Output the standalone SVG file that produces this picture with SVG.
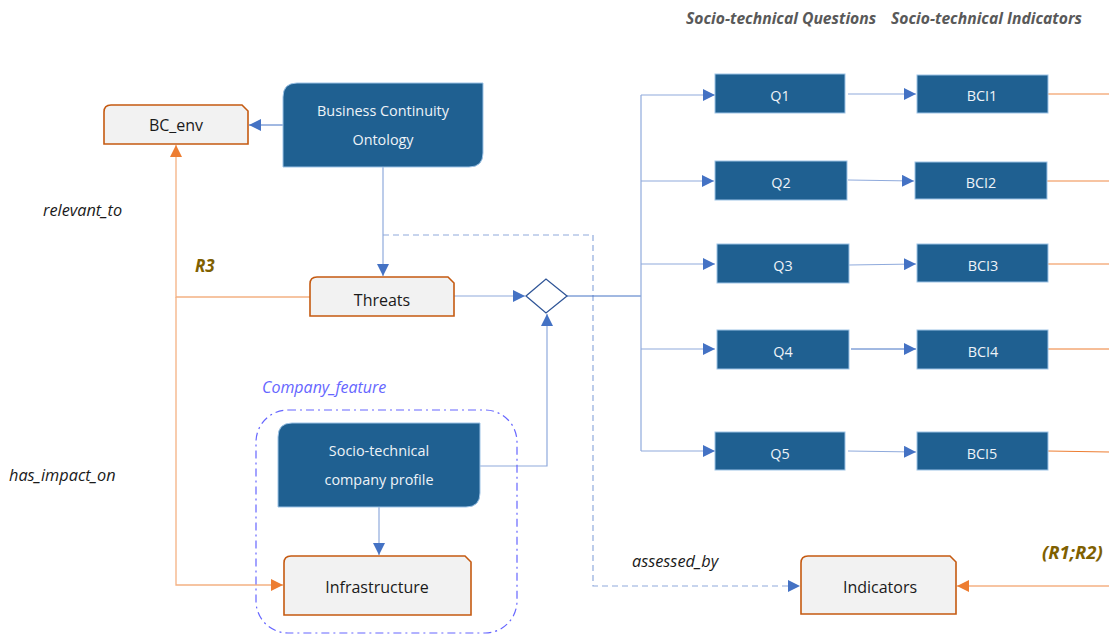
<svg xmlns="http://www.w3.org/2000/svg" width="1109" height="634" viewBox="0 0 1109 634">
<defs>
<style>
.dk{fill:#1f6091;stroke:#9dc3e6;stroke-width:1}
.dkt{font-family:"Open Sans","Noto Sans",sans-serif;font-size:14.4px;fill:#eef3f8;text-anchor:middle}
.lt{fill:#f2f2f2;stroke:#c55a11;stroke-width:1.6}
.ltt{font-family:"Open Sans","Noto Sans",sans-serif;font-size:16px;fill:#1a1a1a;text-anchor:middle}
.bl{fill:none;stroke:#4472c4;stroke-width:1}
.bll{fill:none;stroke:#8faadc;stroke-width:1.2}
.or{fill:none;stroke:#f4b183;stroke-width:1.3}
.ord{fill:none;stroke:#ed7d31;stroke-width:1}
.lab{font-family:"Open Sans","Noto Sans",sans-serif;font-size:16.3px;font-style:italic;fill:#1a1a1a}
.rr{font-family:"Open Sans","Noto Sans",sans-serif;font-size:17px;font-style:italic;font-weight:bold;fill:#7f6000}
.hd{font-family:"Open Sans","Noto Sans",sans-serif;font-size:15.7px;font-style:italic;font-weight:bold;fill:#595959}
</style>
<marker id="ab" viewBox="0 0 10 10" refX="10" refY="5" markerWidth="12" markerHeight="12" markerUnits="userSpaceOnUse" orient="auto"><path d="M0,0 L10,5 L0,10 Z" fill="#4472c4"/></marker>
<marker id="ao" viewBox="0 0 10 10" refX="10" refY="5" markerWidth="12" markerHeight="12" markerUnits="userSpaceOnUse" orient="auto"><path d="M0,0 L10,5 L0,10 Z" fill="#ed7d31"/></marker>
</defs>
<rect width="1109" height="634" fill="#ffffff"/>

<text class="hd" x="686" y="24">Socio-technical Questions</text>
<text class="hd" x="891" y="24">Socio-technical Indicators</text>

<g id="connectors">
<path class="bl" d="M283,125 H249" marker-end="url(#ab)"/>
<path class="bll" d="M383,167 V276" marker-end="url(#ab)"/>
<path class="bll" d="M383,235 H593 V586 H800" stroke-dasharray="6 4" marker-end="url(#ab)"/>
<path class="bll" d="M454,296 H525" marker-end="url(#ab)"/>
<path class="bll" d="M480,466 H547 V314" marker-end="url(#ab)"/>
<path class="bll" d="M379,507 V555" marker-end="url(#ab)"/>
<path class="bl" d="M567,296 H641"/>
<path class="bll" d="M641,95 V451"/>
<path class="bll" d="M641,95 H715" marker-end="url(#ab)"/>
<path class="bll" d="M641,181 H714" marker-end="url(#ab)"/>
<path class="bll" d="M641,264 H715" marker-end="url(#ab)"/>
<path class="bll" d="M641,349 H715" marker-end="url(#ab)"/>
<path class="bll" d="M641,451 H715" marker-end="url(#ab)"/>
<path class="bll" d="M848,94 H916" marker-end="url(#ab)"/>
<path class="bll" d="M848,180 L914,181" marker-end="url(#ab)"/>
<path class="bll" d="M849,265 L916,264" marker-end="url(#ab)"/>
<path class="bl" d="M851,349 H916" marker-end="url(#ab)"/>
<path class="bll" d="M848,451 L916,452" marker-end="url(#ab)"/>
<path class="or" d="M1048,94 H1109"/>
<path class="or" d="M1047,181 H1109"/>
<path class="or" d="M1048,264 H1109"/>
<path class="ord" d="M1048,349 H1109"/>
<path class="ord" d="M1048,451 L1109,452"/>
<path class="or" d="M310,297 H176 V145" marker-end="url(#ao)"/>
<path class="or" d="M176,297 V585 H283" marker-end="url(#ao)"/>
<path class="or" d="M1109,586 H957" marker-end="url(#ao)"/>
</g>

<g id="container">
<rect x="256" y="410" width="261" height="223" rx="32" fill="none" stroke="#6666ff" stroke-width="1.2" stroke-dasharray="8 4 2 4"/>
<text x="262" y="393" font-family="'Open Sans','Noto Sans',sans-serif" font-size="16" font-style="italic" fill="#6666ff">Company_feature</text>
</g>

<g id="bc_env">
<path class="lt" d="M104,144 V112 Q104,105 111,105 H242 L248,111 V144 Z"/>
<text class="ltt" x="176" y="131">BC_env</text>
</g>
<g id="bco">
<path class="dk" d="M283,97 Q283,83 297,83 H483 V153 Q483,167 469,167 H283 Z"/>
<text class="dkt" x="383" y="116">Business Continuity</text>
<text class="dkt" x="383" y="145">Ontology</text>
</g>
<g id="threats">
<path class="lt" d="M310,316 V284 Q310,277 317,277 H448 L454,283 V316 Z"/>
<text class="ltt" x="382" y="306">Threats</text>
</g>
<g id="decision">
<path d="M526,296 L546,279 L567,296 L546,313 Z" fill="#ffffff" stroke="#2f5597" stroke-width="1.3"/>
</g>
<g id="profile">
<path class="dk" d="M278,437 Q278,423 292,423 H480 V493 Q480,507 466,507 H278 Z"/>
<text class="dkt" x="379" y="456">Socio-technical</text>
<text class="dkt" x="379" y="485">company profile</text>
</g>
<g id="infrastructure">
<path class="lt" d="M284,615 V563 Q284,556 291,556 H465 L471,562 V615 Z"/>
<text class="ltt" x="377" y="593">Infrastructure</text>
</g>
<g id="indicators">
<path class="lt" d="M801,614 V563 Q801,556 808,556 H950 L956,562 V614 Z"/>
<text class="ltt" x="880" y="593">Indicators</text>
</g>

<g id="q1"><rect class="dk" x="715" y="74" width="130" height="39"/><text class="dkt" x="780" y="101">Q1</text></g>
<g id="q2"><rect class="dk" x="715" y="161" width="132" height="39"/><text class="dkt" x="781" y="188">Q2</text></g>
<g id="q3"><rect class="dk" x="717" y="244" width="132" height="39"/><text class="dkt" x="783" y="271">Q3</text></g>
<g id="q4"><rect class="dk" x="717" y="330" width="132" height="39"/><text class="dkt" x="783" y="357">Q4</text></g>
<g id="q5"><rect class="dk" x="715" y="432" width="130" height="38"/><text class="dkt" x="780" y="459">Q5</text></g>

<g id="bci1"><rect class="dk" x="917" y="75" width="131" height="38"/><text class="dkt" x="982" y="101">BCI1</text></g>
<g id="bci2"><rect class="dk" x="915" y="162" width="132" height="37"/><text class="dkt" x="981" y="188">BCI2</text></g>
<g id="bci3"><rect class="dk" x="917" y="244" width="131" height="38"/><text class="dkt" x="983" y="271">BCI3</text></g>
<g id="bci4"><rect class="dk" x="917" y="330" width="131" height="39"/><text class="dkt" x="983" y="357">BCI4</text></g>
<g id="bci5"><rect class="dk" x="917" y="432" width="131" height="38"/><text class="dkt" x="982" y="459">BCI5</text></g>

<g id="labels">
<text class="lab" x="43" y="216">relevant_to</text>
<text class="rr" x="195" y="272">R3</text>
<text class="lab" x="9" y="481">has_impact_on</text>
<text class="lab" x="632" y="567">assessed_by</text>
<text class="rr" x="1042" y="559" style="font-size:18.5px">(R1;R2)</text>
</g>
</svg>
